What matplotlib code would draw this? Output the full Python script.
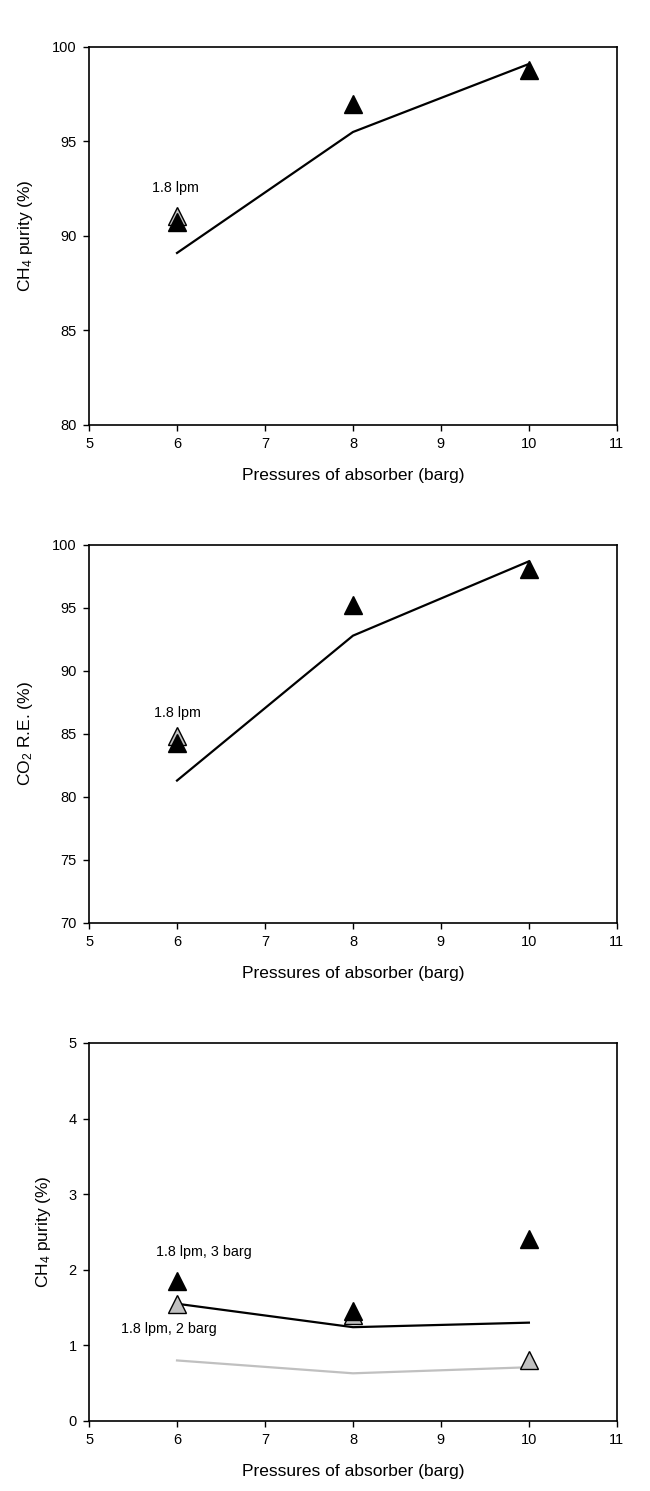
import matplotlib
matplotlib.use('Agg')
import matplotlib.pyplot as plt

plt.rcParams['font.family'] = ['Liberation Sans', 'DejaVu Sans']
plt.rcParams['mathtext.fontset'] = 'custom'
plt.rcParams['mathtext.rm'] = 'Liberation Sans'
plt.rcParams['mathtext.it'] = 'Liberation Sans:italic'

pressure = [6, 8, 10]

# panel (a) CH4 purity
purity_model = [89.1, 95.5, 99.1]
purity_exp = [90.75, 97.0, 98.8]
purity_exp_18 = [91.05]

# panel (b) CO2 removal efficiency
re_model = [81.3, 92.8, 98.7]
re_exp = [84.3, 95.2, 98.1]
re_exp_18 = [84.8]

# panel (c) CH4 in off-gas
loss_model_3 = [1.55, 1.24, 1.30]
loss_model_2 = [0.80, 0.63, 0.71]
loss_exp_3 = [1.85, 1.45, 2.40]
loss_exp_2 = [1.55, 1.40, 0.81]

gray = '#c0c0c0'
ms = 13
lab_fs = 12.5
note_fs = 10.3

fig = plt.figure(figsize=(6.5, 14.91), dpi=100)
ax1 = fig.add_axes([0.137, 0.715, 0.812, 0.2535])
ax2 = fig.add_axes([0.137, 0.381, 0.812, 0.2535])
ax3 = fig.add_axes([0.137, 0.047, 0.812, 0.2535])

for ax in (ax1, ax2, ax3):
    ax.set_xlim(5, 11)
    ax.set_xticks(range(5, 12))
    ax.tick_params(direction='out', length=4, width=1, labelsize=10.5, pad=5,
                   top=False, right=False)
    ax.set_xlabel('Pressures of absorber (barg)', fontsize=lab_fs, labelpad=12)
    for s in ax.spines.values():
        s.set_linewidth(1.2)

# (a)
ax1.plot(pressure, purity_model, color='black', lw=1.6)
ax1.plot(pressure[:1], purity_exp_18, '^', color=gray, mec='black', ms=ms)
ax1.plot(pressure, purity_exp, '^', color='black', mec='black', ms=ms)
ax1.text(5.98, 92.55, '1.8 lpm', fontsize=note_fs, ha='center', va='center')
ax1.set_ylim(80, 100)
ax1.set_yticks(range(80, 101, 5))
ax1.set_ylabel('CH$_4$ purity (%)', fontsize=lab_fs, labelpad=12)

# (b)
ax2.plot(pressure, re_model, color='black', lw=1.6)
ax2.plot(pressure[:1], re_exp_18, '^', color=gray, mec='black', ms=ms)
ax2.plot(pressure, re_exp, '^', color='black', mec='black', ms=ms)
ax2.text(6.01, 86.7, '1.8 lpm', fontsize=note_fs, ha='center', va='center')
ax2.set_ylim(70, 100)
ax2.set_yticks(range(70, 101, 5))
ax2.set_ylabel('CO$_2$ R.E. (%)', fontsize=lab_fs, labelpad=12)

# (c)
ax3.plot(pressure, loss_model_2, color=gray, lw=1.6)
ax3.plot(pressure, loss_model_3, color='black', lw=1.6)
ax3.plot(pressure, loss_exp_2, '^', color=gray, mec='black', ms=ms)
ax3.plot(pressure, loss_exp_3, '^', color='black', mec='black', ms=ms)
ax3.text(6.30, 2.23, '1.8 lpm, 3 barg', fontsize=note_fs, ha='center', va='center')
ax3.text(5.91, 1.21, '1.8 lpm, 2 barg', fontsize=note_fs, ha='center', va='center')
ax3.set_ylim(0, 5)
ax3.set_yticks(range(0, 6))
ax3.set_ylabel('CH$_4$ purity (%)', fontsize=lab_fs, labelpad=11)

fig.savefig('out.png', dpi=100)
